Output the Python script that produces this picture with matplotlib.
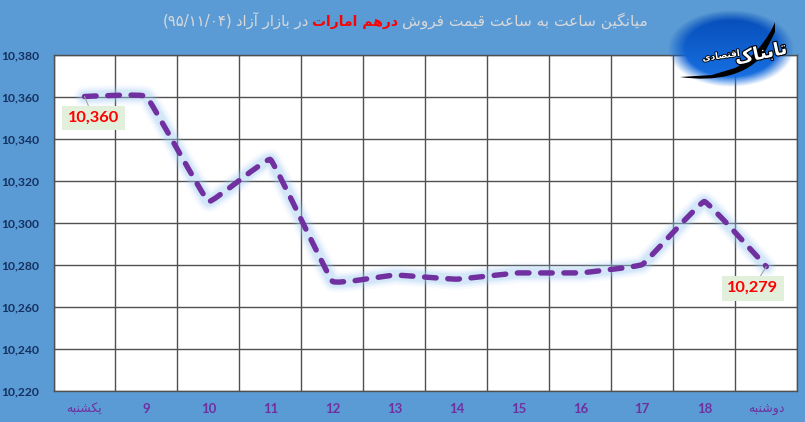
import numpy as np
import matplotlib
matplotlib.use("Agg")
import matplotlib.pyplot as plt
from matplotlib.path import Path
from matplotlib.patches import PathPatch
import matplotlib.patheffects as pe

W, H = 805, 422
BG = "#5B9BD5"

# ---- data ----
categories = ["یکشنبه", "9", "10", "11", "12", "13", "14", "15", "16", "17", "18", "دوشنبه"]
values = [10360, 10360, 10310, 10330, 10272, 10275, 10273, 10276, 10276, 10280, 10310, 10279]
y_ticks = [10220, 10240, 10260, 10280, 10300, 10320, 10340, 10360, 10380]
title_right = "میانگین ساعت به ساعت قیمت فروش"
title_mid = "درهم امارات"
title_left = "در بازار آزاد"
title_date = "(۹۵/۱۱/۰۴)"
logo_big = "تابناک"
logo_small = "اقتصادی"

# ---- minimal Arabic shaping (matplotlib does not shape RTL text) ----
FORMS = {
    "ا": (0xFE8D, 0xFE8E), "آ": (0xFE81, 0xFE82), "د": (0xFEA9, 0xFEAA), "ر": (0xFEAD, 0xFEAE),
    "ز": (0xFEAF, 0xFEB0), "و": (0xFEED, 0xFEEE),
    "ب": (0xFE8F, 0xFE90, 0xFE91, 0xFE92), "ت": (0xFE95, 0xFE96, 0xFE97, 0xFE98),
    "س": (0xFEB1, 0xFEB2, 0xFEB3, 0xFEB4), "ش": (0xFEB5, 0xFEB6, 0xFEB7, 0xFEB8),
    "ص": (0xFEB9, 0xFEBA, 0xFEBB, 0xFEBC), "ع": (0xFEC9, 0xFECA, 0xFECB, 0xFECC),
    "ف": (0xFED1, 0xFED2, 0xFED3, 0xFED4), "ق": (0xFED5, 0xFED6, 0xFED7, 0xFED8),
    "ک": (0xFB8E, 0xFB8F, 0xFB90, 0xFB91), "گ": (0xFB92, 0xFB93, 0xFB94, 0xFB95),
    "م": (0xFEE1, 0xFEE2, 0xFEE3, 0xFEE4), "ن": (0xFEE5, 0xFEE6, 0xFEE7, 0xFEE8),
    "ه": (0xFEE9, 0xFEEA, 0xFEEB, 0xFEEC), "ی": (0xFBFC, 0xFBFD, 0xFBFE, 0xFBFF),
}

def shape(s):
    out = []
    for i, c in enumerate(s):
        f = FORMS.get(c)
        if f is None:
            out.append(c)
            continue
        prev = s[i - 1] if i else ""
        nxt = s[i + 1] if i + 1 < len(s) else ""
        join_prev = prev in FORMS and len(FORMS[prev]) == 4
        join_next = nxt in FORMS and len(f) == 4
        if join_prev and join_next:
            k = 3
        elif join_prev:
            k = 1
        elif join_next:
            k = 2
        else:
            k = 0
        out.append(chr(f[k]))
    return "".join(reversed(out))

def tick_label(s):
    return shape(s) if s and not s[0].isdigit() else s

# ---- figure ----
fig = plt.figure(figsize=(W / 100, H / 100), dpi=100, facecolor=BG)
ax = fig.add_axes([53.5 / W, (H - 390.5) / H, (797.3 - 53.5) / W, 336 / H])
ax.set_facecolor("white")
x = np.arange(len(values))
ax.set_xlim(-0.5, len(values) - 0.5)
ax.set_ylim(10220, 10380)
ax.set_yticks(y_ticks)
ax.set_yticklabels([f"{v:,}" for v in y_ticks], fontfamily="Lato", fontweight="bold",
                   fontsize=8.7, color="#14315F")
ax.set_xticks(x)
ax.tick_params(axis="both", length=0)
ax.tick_params(axis="y", pad=10)
ax.tick_params(axis="x", pad=9)
ax.set_xticklabels([tick_label(c) for c in categories])
for lab, c in zip(ax.get_xticklabels(), categories):
    lab.set_color("#7030A0")
    if c[0].isdigit():
        lab.set_fontfamily("Lato")
        lab.set_fontweight("bold")
        lab.set_fontsize(9.5)
    else:
        lab.set_fontfamily("DejaVu Sans")
        lab.set_fontsize(9)
# vertical gridlines on category boundaries
ax.set_xticks(np.arange(-0.5, len(values), 1), minor=True)
ax.tick_params(axis="x", which="minor", length=0)
ax.grid(True, which="minor", axis="x", color="#505050", lw=1.0)
ax.grid(True, which="major", axis="y", color="#505050", lw=1.0)
ax.set_axisbelow(True)
for s in ax.spines.values():
    s.set_color("#505050")
    s.set_linewidth(1.0)

# lightly rounded line through the data (Bezier through the points)
pts = np.column_stack([x, values]).astype(float)
verts = [tuple(pts[0])]
codes = [Path.MOVETO]
n = len(pts)
TENSION = 1 / 32
for i in range(n - 1):
    p0 = pts[max(i - 1, 0)]
    p1 = pts[i]
    p2 = pts[i + 1]
    p3 = pts[min(i + 2, n - 1)]
    verts += [tuple(p1 + (p2 - p0) * TENSION), tuple(p2 - (p3 - p1) * TENSION), tuple(p2)]
    codes += [Path.CURVE4] * 3
curve = Path(verts, codes)

for lw, a in [(15, 0.08), (12, 0.11), (9.5, 0.14), (7.5, 0.18)]:
    ax.add_patch(PathPatch(curve, fill=False, edgecolor="#9CCBF5", lw=lw, alpha=a,
                           capstyle="round", joinstyle="round", zorder=3))
lw = 3.9
ax.add_patch(PathPatch(curve, fill=False, edgecolor="#7030A0", lw=lw,
                       linestyle=(0, (2.15, 2.15)), capstyle="round", joinstyle="round", zorder=4))

# data labels
box = dict(boxstyle="square,pad=0.33", fc="#E2EFDA", ec="none")
arrow = dict(arrowstyle="-", color="#A6A6A6", lw=0.8, shrinkA=0, shrinkB=0)
for idx, off in [(0, (6.5, -15.5)), (len(values) - 1, (-9.7, -15.6))]:
    ax.annotate(f"{values[idx]:,}", xy=(x[idx], values[idx]), xytext=off, textcoords="offset points",
                ha="center", va="center", color="#FF0000", fontfamily="Lato", fontweight="bold",
                fontsize=11.8, bbox=box, arrowprops=arrow, zorder=5)

# title, chained right to left
fig.canvas.draw()
r = fig.canvas.get_renderer()
TC = "#D9D9D9"
right = 648.0
segments = [(shape(title_right), TC, "normal", 11.1), (shape(title_mid), "#FF0000", "bold", 10.0),
            (shape(title_left), TC, "normal", 10.7), (title_date, TC, "normal", 10.7)]
for s, col, w, size in segments:
    t = fig.text(right / W, 1 - 26 / H, s, ha="right", va="baseline", color=col, fontweight=w,
                 fontsize=size, family="DejaVu Sans")
    right = t.get_window_extent(r).x0 - 4

# logo
lg = fig.add_axes([0, 0, 1, 1], zorder=10)
lg.axis("off")
lg.patch.set_alpha(0)
gx, gy = np.meshgrid(np.arange(660, 800), np.arange(0, 100))
d = np.sqrt(((gx - 730) / 57.0) ** 2 + ((gy - 48) / 35.0) ** 2)
alpha = np.clip((1.1 - d) / 0.3, 0, 1)
img = np.zeros(gx.shape + (4,))
shade = np.clip((gy - 13) / 70.0, 0, 1)[..., None]
img[..., :3] = np.array([0.02, 0.30, 0.72]) * (1 - shade) + np.array([0.10, 0.45, 0.90]) * shade
img[..., 3] = alpha
lg.imshow(img, extent=(660, 800, 100, 0), interpolation="bilinear", zorder=1, aspect="auto")
lg.set_xlim(0, W)
lg.set_ylim(H, 0)
sw = Path([(680, 77), (715, 82), (748, 76), (765, 52), (775, 32), (775, 22),
           (770, 36), (752, 60), (735, 68), (712, 75), (680, 77), (680, 77)],
          [Path.MOVETO] + [Path.CURVE4] * 3 + [Path.LINETO, Path.LINETO] + [Path.CURVE4] * 3
          + [Path.LINETO, Path.LINETO, Path.CLOSEPOLY])
lg.add_patch(PathPatch(sw, fc="black", ec="none", zorder=2))
stroke = [pe.withStroke(linewidth=1.6, foreground="black")]
lg.text(761, 54, shape(logo_big), color="white", fontsize=13, fontweight="bold", family="DejaVu Sans",
        ha="center", va="center", rotation=12, path_effects=stroke, zorder=3)
lg.text(721, 56, shape(logo_small), color="white", fontsize=6.5, fontweight="bold", family="DejaVu Sans",
        ha="center", va="center", rotation=8, path_effects=[pe.withStroke(linewidth=1.2, foreground="black")], zorder=3)

fig.savefig("out.png", dpi=100, facecolor=BG)
